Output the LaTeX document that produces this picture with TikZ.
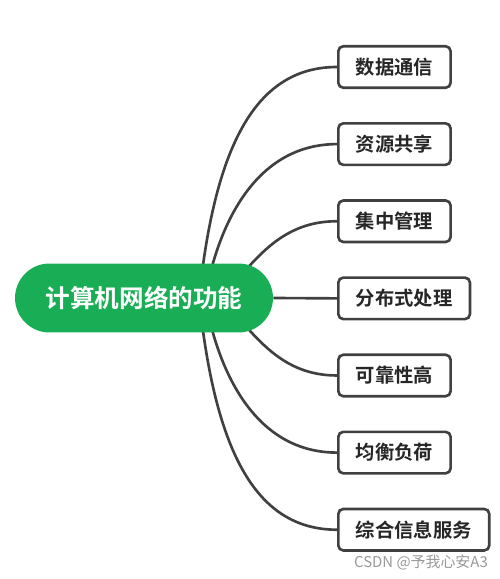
\documentclass[tikz,border=0pt]{standalone}
\usepackage{fontspec}
\setmainfont{Noto Sans CJK SC}[BoldFont={Noto Sans CJK SC Bold}]
\usepackage{xcolor}
\definecolor{mapgreen}{RGB}{25,174,85}
\definecolor{mapgray}{RGB}{64,64,64}
\definecolor{maptext}{RGB}{38,38,38}
\usetikzlibrary{positioning}
\usetikzlibrary{backgrounds}
\tikzset{
  topic/.style={fill=mapgreen, text=white, font=\fontsize{14pt}{16pt}\selectfont\bfseries,
    minimum width=5.16cm, minimum height=1.38cm, rounded corners=0.69cm},
  subtopic/.style={draw=mapgray, line width=1.5pt, rounded corners=0.1cm, text=maptext,
    font=\fontsize{11pt}{13pt}\selectfont\bfseries, minimum height=0.83cm, inner xsep=0.35cm},
  branch/.style={draw=mapgray, line width=1.5pt},
}

\begin{document}
\begin{tikzpicture}[x=0.02cm, y=0.02cm]
  \useasboundingbox (0,0) rectangle (500,579);

  \node[topic] (core) at (144,281) {计算机网络的功能};

  \node[subtopic, anchor=west] (comm) at (337,512) {数据通信};
  \node[subtopic, below=0.66cm of comm.south west, anchor=north west] (share) {资源共享};
  \node[subtopic, below=0.66cm of share.south west, anchor=north west] (mgmt) {集中管理};
  \node[subtopic, below=0.66cm of mgmt.south west, anchor=north west] (dist) {分布式处理};
  \node[subtopic, below=0.66cm of dist.south west, anchor=north west] (rel) {可靠性高};
  \node[subtopic, below=0.66cm of rel.south west, anchor=north west] (load) {均衡负荷};
  \node[subtopic, below=0.66cm of load.south west, anchor=north west] (info) {综合信息服务};

  \coordinate (o1) at (199,281);
  \coordinate (o2) at (205,281);
  \coordinate (o3) at (222,281);

  \begin{scope}[on background layer]
    \draw[branch] (o1) to[out=84, in=180, out looseness=1.4, in looseness=0.8] (comm.west);
    \draw[branch] (o2) to[out=80, in=180] (share.west);
    \draw[branch] (o3) to[out=50, in=180] (mgmt.west);
    \draw[branch] (o3) to[out=-50, in=180] (rel.west);
    \draw[branch] (o2) to[out=-80, in=180] (load.west);
    \draw[branch] (o1) to[out=-84, in=180, out looseness=1.4, in looseness=0.8] (info.west);
  \end{scope}

  \draw[branch] (core.east) -- (dist.west);

  \node[text=black!40, font=\fontsize{8.5pt}{10pt}\selectfont, anchor=east] (mark) at (494,16) {CSDN @予我心安A3};
\end{tikzpicture}
\end{document}
